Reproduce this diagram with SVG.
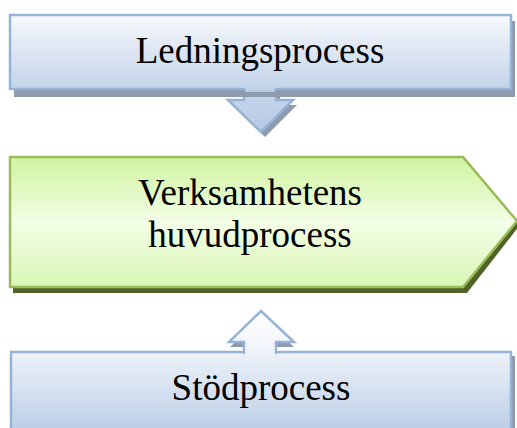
<svg xmlns="http://www.w3.org/2000/svg" width="517" height="428" viewBox="0 0 517 428">
  <defs>
    <linearGradient id="gBlue" x1="0" y1="0" x2="0" y2="1">
      <stop offset="0" stop-color="#F7F9FD"/>
      <stop offset="1" stop-color="#C3D3E9"/>
    </linearGradient>
    <linearGradient id="gBlue2" x1="0" y1="0" x2="0" y2="1">
      <stop offset="0" stop-color="#EEF2F9"/>
      <stop offset="1" stop-color="#B4C9E4"/>
    </linearGradient>
    <linearGradient id="gArrowDown" x1="0" y1="0" x2="0" y2="1">
      <stop offset="0" stop-color="#C8D6EB"/>
      <stop offset="1" stop-color="#B7CAE4"/>
    </linearGradient>
    <linearGradient id="gArrowUp" x1="0" y1="0" x2="0" y2="1">
      <stop offset="0" stop-color="#FFFFFF"/>
      <stop offset="1" stop-color="#EEF2F9"/>
    </linearGradient>
    <linearGradient id="gGreen" x1="0" y1="0" x2="0" y2="1">
      <stop offset="0" stop-color="#CFF39F"/>
      <stop offset="0.5" stop-color="#F3FEE6"/>
      <stop offset="1" stop-color="#D9F6B5"/>
    </linearGradient>
  </defs>
  <style>
    .blue { stroke: #95B3D7; stroke-width: 2.5; stroke-linejoin: miter; }
    .green { stroke: #9BBB59; stroke-width: 2.5; }
    .sh { fill: #8E9BAD; }
    .shg { fill: #4F6228; }
    .t { font-family: "Liberation Serif", "Times New Roman", serif; font-size: 37px; fill: #000; text-anchor: middle; }
  </style>

  <g id="connectors">
    <!-- down arrow -->
    <path class="sh" d="M248,96 L280,96 L280,105 L297,105 L265,137 L232,105 L248,105 Z"/>
    <path fill="url(#gArrowDown)" class="blue" d="M244,88 L244,100 L228,100 L261,132 L293,100 L276,100 L276,88"/>
    <!-- up arrow shadow -->
    <path class="sh" d="M262,316 L294,347 L277,347 L277,357 L245,357 L245,347 L230,347 Z"/>
  </g>

  <g id="node-ledning">
    <rect class="sh" x="14" y="21" width="501" height="76"/>
    <rect x="10" y="15" width="501" height="74" fill="url(#gBlue)" class="blue"/>
    <path fill="url(#gArrowDown)" d="M245.3,86 L274.7,86 L274.7,92 L245.3,92 Z"/>
    <text class="t" x="260" y="63">Ledningsprocess</text>
  </g>

  <g id="node-huvud">
    <path class="shg" d="M13,162 L467,162 L520,225 L467,293 L13,293 Z"/>
    <path fill="url(#gGreen)" class="green" d="M10,157 L463,157 L517,221 L463,287 L10,287 Z"/>
    <text class="t" x="250" y="205">Verksamhetens</text>
    <text class="t" x="250" y="247">huvudprocess</text>
  </g>

  <g id="node-stod">
    <rect class="sh" x="15" y="356" width="500" height="90"/>
    <rect x="11" y="352" width="500" height="90" fill="url(#gBlue2)" class="blue"/>
    <text class="t" x="261" y="400">Stödprocess</text>
  </g>

  <g id="connector-up">
    <path fill="url(#gArrowUp)" class="blue" d="M244,354 L244,342 L229,342 L261,311 L294,342 L276,342 L276,354"/>
    <rect x="245.3" y="350" width="29.4" height="5" fill="#EEF2F9"/>
  </g>
</svg>
